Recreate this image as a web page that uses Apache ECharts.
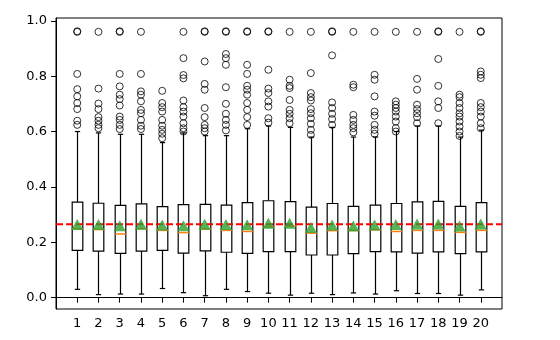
<!DOCTYPE html>
<html>
<head>
<meta charset="utf-8">
<script src="https://cdn.jsdelivr.net/npm/echarts@6/dist/echarts.min.js"></script>
<style>
  html, body { margin: 0; padding: 0; background: #fff; }
  #chart { width: 560px; height: 340px; }
</style>
</head>
<body>
<div id="chart"></div>
<script>
// box statistics, one value per group
var categories = [1, 2, 3, 4, 5, 6, 7, 8, 9, 10, 11, 12, 13, 14, 15, 16, 17, 18, 19, 20];
var whiskerLow = [0.030, 0.011, 0.013, 0.013, 0.033, 0.018, 0.007, 0.030, 0.022, 0.016, 0.009, 0.016, 0.011, 0.017, 0.013, 0.025, 0.015, 0.015, 0.009, 0.028];
var q1 = [0.171, 0.168, 0.160, 0.168, 0.171, 0.161, 0.169, 0.164, 0.160, 0.166, 0.166, 0.154, 0.154, 0.159, 0.166, 0.165, 0.161, 0.165, 0.159, 0.165];
var median = [0.249, 0.246, 0.230, 0.249, 0.243, 0.235, 0.248, 0.243, 0.239, 0.255, 0.259, 0.233, 0.242, 0.243, 0.245, 0.239, 0.243, 0.243, 0.236, 0.243];
var q3 = [0.345, 0.341, 0.333, 0.339, 0.329, 0.336, 0.337, 0.334, 0.343, 0.350, 0.347, 0.327, 0.340, 0.330, 0.334, 0.340, 0.346, 0.348, 0.330, 0.343];
var whiskerHigh = [0.600, 0.595, 0.590, 0.590, 0.560, 0.595, 0.585, 0.585, 0.610, 0.620, 0.615, 0.580, 0.615, 0.580, 0.580, 0.600, 0.620, 0.620, 0.580, 0.605];
var means = [0.264, 0.264, 0.260, 0.265, 0.262, 0.260, 0.265, 0.264, 0.263, 0.269, 0.269, 0.253, 0.262, 0.259, 0.262, 0.264, 0.266, 0.266, 0.259, 0.266];
var outliers = [
  [0.960, 0.962, 0.808, 0.753, 0.727, 0.703, 0.681, 0.639, 0.624],
  [0.960, 0.755, 0.701, 0.681, 0.652, 0.639, 0.624, 0.612],
  [0.960, 0.962, 0.808, 0.763, 0.733, 0.717, 0.694, 0.654, 0.642, 0.624, 0.609],
  [0.960, 0.808, 0.745, 0.733, 0.709, 0.678, 0.666, 0.642, 0.621, 0.609],
  [0.747, 0.703, 0.688, 0.672, 0.642, 0.621, 0.606, 0.592, 0.576],
  [0.960, 0.865, 0.804, 0.792, 0.712, 0.688, 0.672, 0.654, 0.630, 0.612, 0.600],
  [0.960, 0.962, 0.853, 0.772, 0.751, 0.685, 0.652, 0.624, 0.612, 0.600],
  [0.960, 0.962, 0.880, 0.865, 0.841, 0.760, 0.700, 0.664, 0.642, 0.624, 0.604],
  [0.960, 0.962, 0.841, 0.808, 0.765, 0.751, 0.733, 0.703, 0.678, 0.652, 0.624],
  [0.960, 0.962, 0.823, 0.755, 0.739, 0.709, 0.690, 0.648, 0.632],
  [0.960, 0.787, 0.765, 0.757, 0.714, 0.678, 0.664, 0.648, 0.630],
  [0.960, 0.811, 0.739, 0.724, 0.712, 0.681, 0.666, 0.648, 0.628, 0.606, 0.588],
  [0.960, 0.962, 0.875, 0.705, 0.685, 0.664, 0.645, 0.624],
  [0.960, 0.769, 0.760, 0.660, 0.642, 0.624, 0.612, 0.597],
  [0.960, 0.805, 0.787, 0.727, 0.672, 0.657, 0.624, 0.606, 0.592],
  [0.960, 0.709, 0.697, 0.685, 0.672, 0.654, 0.636, 0.612, 0.600],
  [0.960, 0.790, 0.751, 0.697, 0.681, 0.666, 0.652, 0.630],
  [0.960, 0.962, 0.862, 0.765, 0.709, 0.685, 0.630],
  [0.960, 0.733, 0.724, 0.703, 0.685, 0.666, 0.654, 0.636, 0.618, 0.600, 0.584],
  [0.960, 0.962, 0.817, 0.805, 0.793, 0.703, 0.688, 0.672, 0.654, 0.630, 0.612]
];
var overallMean = 0.265;
var yTicks = [0, 0.2, 0.4, 0.6, 0.8, 1.0];
var xMin = 0, xMax = 21;

var BOX_WIDTH = 0.5; // in x units, like matplotlib's default

var boxData = categories.map(function (c, i) {
  return [c, whiskerLow[i], q1[i], median[i], q3[i], whiskerHigh[i]];
});
var meanData = categories.map(function (c, i) {
  return [c, means[i]];
});
var outlierData = [];
categories.forEach(function (c, i) {
  outliers[i].forEach(function (v) {
    outlierData.push([c, v]);
  });
});

function renderBox(params, api) {
  var x = api.value(0);
  var lo = api.coord([x, api.value(1)]);
  var b1 = api.coord([x, api.value(2)]);
  var md = api.coord([x, api.value(3)]);
  var b3 = api.coord([x, api.value(4)]);
  var hi = api.coord([x, api.value(5)]);
  var w = api.size([BOX_WIDTH, 0])[0];
  var cx = Math.round(lo[0]) + 0.5;
  var left = cx - w / 2;
  var black = { stroke: '#000', lineWidth: 1.2, fill: null };
  return {
    type: 'group',
    children: [
      { type: 'line', shape: { x1: cx, y1: lo[1], x2: cx, y2: b1[1] }, style: black },
      { type: 'line', shape: { x1: cx, y1: b3[1], x2: cx, y2: hi[1] }, style: black },
      { type: 'line', shape: { x1: cx - w / 4, y1: lo[1], x2: cx + w / 4, y2: lo[1] }, style: black },
      { type: 'line', shape: { x1: cx - w / 4, y1: hi[1], x2: cx + w / 4, y2: hi[1] }, style: black },
      { type: 'rect', shape: { x: left, y: b3[1], width: w, height: b1[1] - b3[1] }, style: { stroke: '#000', lineWidth: 1.2, fill: '#fff' } },
      { type: 'line', shape: { x1: left, y1: md[1], x2: left + w, y2: md[1] }, style: { stroke: '#ff7f0e', lineWidth: 1.5 } }
    ]
  };
}

// the red dashed reference line, drawn as a path so the dash is explicit
function renderMeanLine(params, api) {
  var p0 = api.coord([xMin, api.value(0)]);
  var p1 = api.coord([xMax, api.value(0)]);
  return {
    type: 'line',
    shape: { x1: p0[0], y1: p0[1], x2: p1[0], y2: p1[1] },
    style: { stroke: '#ff0000', lineWidth: 2, lineDash: [7, 3] }
  };
}

var chart = echarts.init(document.getElementById('chart'));
chart.setOption({
  animation: false,
  grid: {
    left: 56, right: 58, top: 18, bottom: 31,
    show: true, borderColor: '#000', borderWidth: 1, backgroundColor: 'transparent'
  },
  xAxis: {
    type: 'value',
    min: xMin,
    max: xMax,
    splitLine: { show: false },
    axisLine: { lineStyle: { color: '#000', width: 1 } },
    axisTick: { length: 5, lineStyle: { color: '#000' }, customValues: categories },
    axisLabel: {
      color: '#000', fontFamily: 'DejaVu Sans', fontSize: 13, margin: 8,
      customValues: categories
    }
  },
  yAxis: {
    type: 'value',
    min: -0.041,
    max: 1.01,
    splitLine: { show: false },
    axisLine: { show: true, lineStyle: { color: '#000', width: 1 } },
    axisTick: { show: true, length: 5, lineStyle: { color: '#000' }, customValues: yTicks },
    axisLabel: {
      color: '#000', fontFamily: 'DejaVu Sans', fontSize: 13, margin: 9,
      customValues: yTicks,
      formatter: function (v) { return v.toFixed(1); }
    }
  },
  series: [
    {
      type: 'custom',
      renderItem: renderBox,
      data: boxData,
      z: 2,
      encode: { x: 0, y: [1, 2, 3, 4, 5] }
    },
    {
      type: 'scatter',
      data: outlierData,
      symbol: 'circle',
      symbolSize: 7,
      itemStyle: { color: 'rgba(0,0,0,0)', borderColor: '#000', borderWidth: 1 },
      z: 2
    },
    {
      type: 'custom',
      renderItem: renderMeanLine,
      data: [[overallMean]],
      encode: { y: 0 },
      silent: true,
      z: 3
    },
    {
      type: 'scatter',
      data: meanData,
      symbol: 'triangle',
      symbolSize: [12, 11],
      itemStyle: { color: '#2ca02c' },
      z: 4
    }
  ]
});
</script>
</body>
</html>
